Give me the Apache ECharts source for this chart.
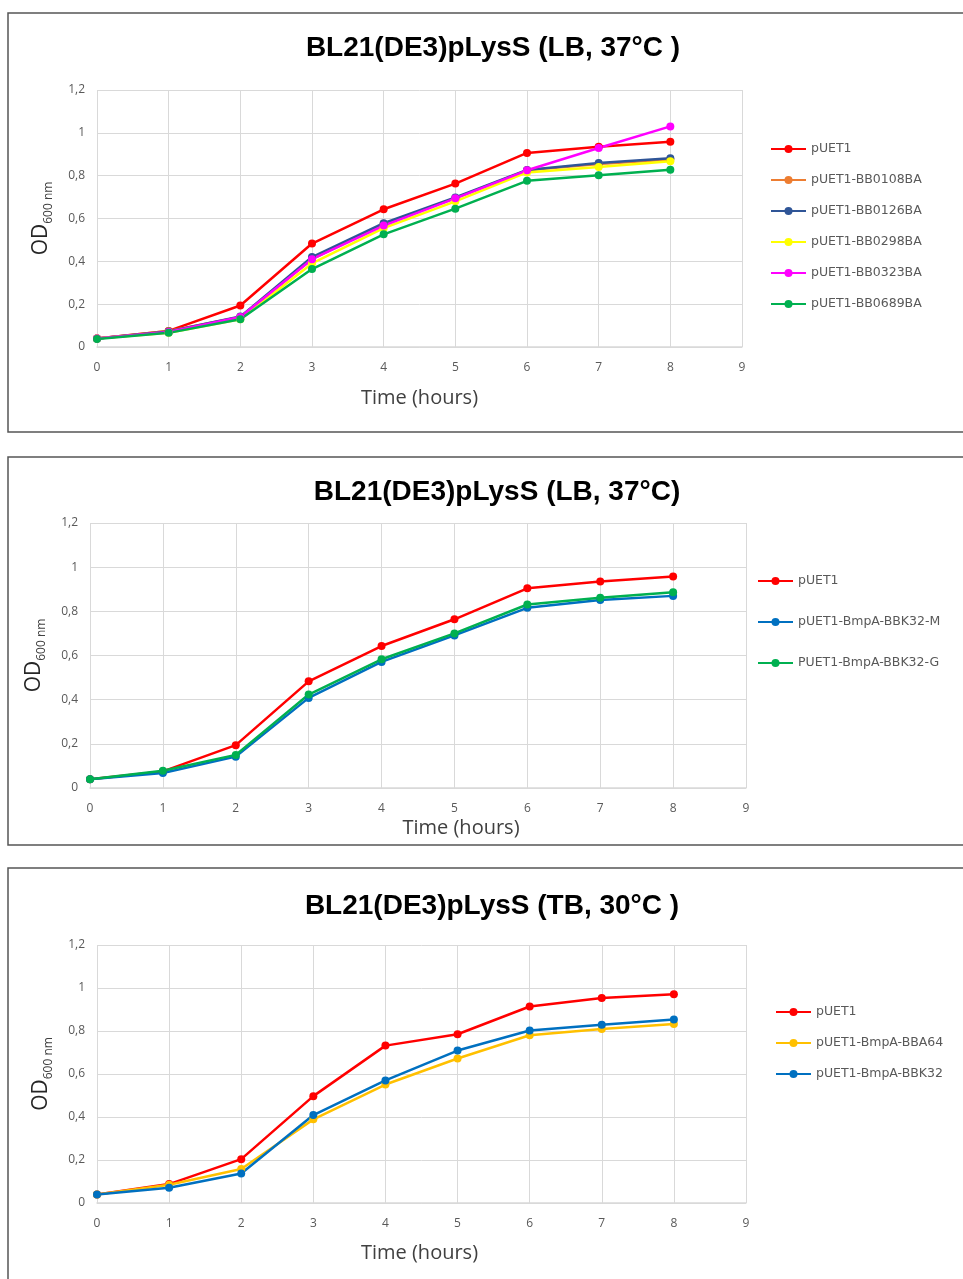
<!DOCTYPE html>
<html><head><meta charset="utf-8">
<script src="https://cdn.jsdelivr.net/npm/echarts@6/dist/echarts.min.js"></script>
<style>html,body{margin:0;padding:0;background:#fff;overflow:hidden}#c{width:963px;height:1279px}</style>
</head><body><div id="c"></div>
<script>
const hours = [0,1,2,3,4,5,6,7,8];
const yTicks = [0,0.2,0.4,0.6,0.8,1,1.2];

// Panel 1: BL21(DE3)pLysS (LB, 37°C )
const p1Names = ['pUET1','pUET1-BB0108BA','pUET1-BB0126BA','pUET1-BB0298BA','pUET1-BB0323BA','pUET1-BB0689BA'];
const p1_pUET1   = [0.04,0.075,0.194,0.483,0.643,0.763,0.906,0.935,0.958];
const p1_BB0108  = [0.04,0.075,0.140,0.410,0.575,0.695,0.825,0.855,0.875];
const p1_BB0126  = [0.04,0.072,0.142,0.420,0.578,0.698,0.827,0.859,0.881];
const p1_BB0298  = [0.04,0.066,0.130,0.390,0.555,0.680,0.815,0.841,0.867];
const p1_BB0323  = [0.04,0.070,0.140,0.410,0.567,0.694,0.825,0.929,1.030];
const p1_BB0689  = [0.037,0.066,0.130,0.364,0.526,0.646,0.776,0.802,0.828];
const p1Colors = ['#FF0000','#ED7D31','#2F5597','#FFFF00','#FF00FF','#00B050'];

// Panel 2: BL21(DE3)pLysS (LB, 37°C)
const p2Names = ['pUET1','pUET1-BmpA-BBK32-M','PUET1-BmpA-BBK32-G'];
const p2_pUET1 = [0.04,0.075,0.194,0.483,0.643,0.764,0.904,0.935,0.958];
const p2_M     = [0.04,0.068,0.142,0.408,0.571,0.691,0.816,0.851,0.870];
const p2_G     = [0.04,0.078,0.150,0.423,0.583,0.700,0.831,0.861,0.886];
const p2Colors = ['#FF0000','#0070C0','#00B050'];

// Panel 3: BL21(DE3)pLysS (TB, 30°C )
const p3Names = ['pUET1','pUET1-BmpA-BBA64','pUET1-BmpA-BBK32'];
const p3_pUET1 = [0.04,0.088,0.204,0.497,0.732,0.785,0.914,0.954,0.971];
const p3_BBA64 = [0.04,0.085,0.158,0.389,0.551,0.672,0.780,0.809,0.832];
const p3_BBK32 = [0.04,0.071,0.137,0.409,0.570,0.709,0.802,0.829,0.853];
const p3Colors = ['#FF0000','#FFC000','#0070C0'];

const titles = ['BL21(DE3)pLysS (LB, 37°C )','BL21(DE3)pLysS (LB, 37°C)','BL21(DE3)pLysS (TB, 30°C )'];
const xName = 'Time (hours)';

const panels = [
  {names:p1Names, data:[p1_pUET1,p1_BB0108,p1_BB0126,p1_BB0298,p1_BB0323,p1_BB0689], colors:p1Colors},
  {names:p2Names, data:[p2_pUET1,p2_M,p2_G], colors:p2Colors},
  {names:p3Names, data:[p3_pUET1,p3_BBA64,p3_BBK32], colors:p3Colors}
];

// layout (positions only)
const L = [
  {grid:{left:97,top:90,width:645,height:257}, title:{x:493,y:34}, legend:{left:770,top:142.5,gap:18}, xGap:41, xPad:0, yGap:33, box:[8,13,1000,419]},
  {grid:{left:90,top:523,width:656,height:265}, title:{x:497,y:478}, legend:{left:757,top:574.5,gap:28}, xGap:30, xPad:86, yGap:33, box:[8,457,1000,388]},
  {grid:{left:97,top:945,width:649,height:258}, title:{x:492,y:892}, legend:{left:775,top:1005.5,gap:18}, xGap:40, xPad:-4, yGap:33, box:[8,868,1000,500]}
];

const fmtY = v => String(+v.toFixed(1)).replace('.', ',');
const option = {
  backgroundColor:'#fff', animation:false,
  title:[], grid:[], xAxis:[], yAxis:[], legend:[], series:[],
  graphic: L.map(l => ({type:'rect', shape:{x:l.box[0],y:l.box[1],width:l.box[2],height:l.box[3]}, style:{fill:'none',stroke:'#555',lineWidth:1.5}, z:-1}))
};
panels.forEach((p,i) => {
  const l = L[i];
  option.title.push({text:titles[i], left:l.title.x, top:l.title.y, textAlign:'center', padding:0,
    textStyle:{fontFamily:'Liberation Sans, Arial, sans-serif', fontWeight:'bold', fontSize:28, color:'#000'}});
  option.grid.push(Object.assign({containLabel:false}, l.grid));
  option.xAxis.push({type:'value', gridIndex:i, min:0, max:9, interval:1,
    name:xName, nameLocation:'middle', nameGap:l.xGap,
    nameTextStyle:{fontFamily:'Open Sans, sans-serif', fontSize:20, color:'#404040', padding:[0,0,0,l.xPad]},
    axisLine:{show:true, lineStyle:{color:'#d9d9d9', width:1.5}}, axisTick:{show:false},
    axisLabel:{margin:15, fontFamily:'Open Sans, sans-serif', fontSize:12, color:'#595959'},
    splitLine:{show:true, lineStyle:{color:'#d9d9d9', width:1}}});
  option.yAxis.push({type:'value', gridIndex:i, min:0, max:1.2, interval:0.2,
    name:'{a|OD}{b|600 nm}', nameLocation:'middle', nameGap:l.yGap, nameRotate:90,
    nameTextStyle:{rich:{
      a:{fontFamily:'Open Sans, sans-serif', fontSize:21, color:'#262626', lineHeight:24, padding:[0,0,6,0], verticalAlign:'top'},
      b:{fontFamily:'Open Sans, sans-serif', fontSize:12, color:'#404040', lineHeight:13, verticalAlign:'bottom'}}},
    axisLine:{show:false}, axisTick:{show:false},
    axisLabel:{margin:12, fontFamily:'Open Sans, sans-serif', fontSize:12, color:'#595959', formatter:fmtY},
    splitLine:{show:true, lineStyle:{color:'#d9d9d9', width:1}}});
  option.legend.push({orient:'vertical', left:l.legend.left, top:l.legend.top, itemGap:l.legend.gap, padding:0,
    itemWidth:35, itemHeight:10, data:p.names,
    textStyle:{fontFamily:'DejaVu Sans, sans-serif', fontSize:12.5, color:'#595959'}});
  p.names.forEach((n,k) => {
    option.series.push({type:'line', name:n, xAxisIndex:i, yAxisIndex:i,
      data:hours.map((h,j)=>[h,p.data[k][j]]),
      color:p.colors[k], symbol:'circle', symbolSize:8,
      lineStyle:{width:2.5, color:p.colors[k]}, itemStyle:{color:p.colors[k]}});
  });
});
const chart = echarts.init(document.getElementById('c'), null, {renderer:'canvas'});
chart.setOption(option);
</script></body></html>
